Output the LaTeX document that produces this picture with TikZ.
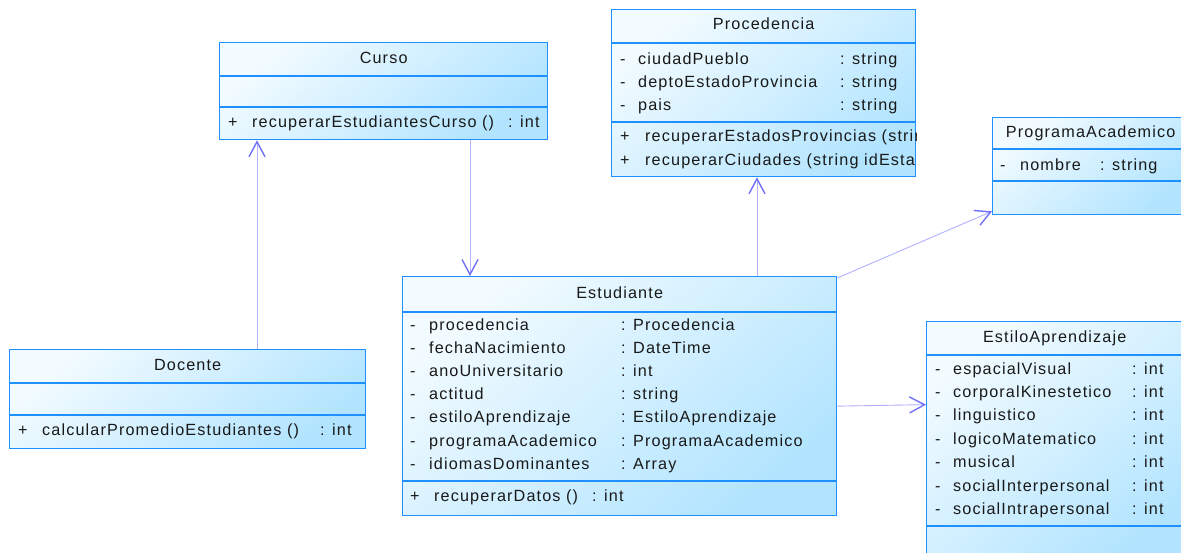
\documentclass[tikz,border=0pt]{standalone}
\usepackage{fontspec}
\setmainfont{Liberation Sans}[LetterSpace=7]
\usepackage{tikz}
\usetikzlibrary{arrows.meta}
\definecolor{UMLBorder}{RGB}{30,144,255}
\definecolor{UMLFillA}{RGB}{242,251,255}
\definecolor{UMLFillB}{RGB}{178,228,255}
\definecolor{UMLLine}{RGB}{178,178,255}
\definecolor{UMLHead}{RGB}{112,112,250}

\begin{document}
\begin{tikzpicture}[x=1pt, y=-1pt,
    cls/.style={rectangle, draw=UMLBorder, line width=1.3pt, anchor=north west,
                inner sep=0pt, top color=UMLFillA, bottom color=UMLFillB,
                shading angle=40},
    sep/.style={draw=UMLBorder, line width=1.2pt},
    txt/.style={anchor=west, inner sep=0pt, text=black!90,
                text height=11.5pt, text depth=3.5pt,
                font=\fontsize{16.2}{18}\selectfont},
    ttl/.style={inner sep=0pt, text=black!90,
                text height=11.5pt, text depth=3.5pt,
                font=\fontsize{16.2}{18}\selectfont},
    assoc/.style={draw=UMLLine, line width=0.9pt,
                  -{Straight Barb[length=15pt, width=16pt, line width=1.4pt,
                    color=UMLHead]}}
  ]
  \fill[white] (0,0) rectangle (1181,552);
  \useasboundingbox (0,0) rectangle (1181,552);

  % Curso
  \node[cls, minimum width=328pt, minimum height=97pt] (curso) at (219,42) {};
  \draw[sep] ([yshift=-34pt]curso.north west) -- ([yshift=-34pt]curso.north east);
  \draw[sep] ([yshift=-65pt]curso.north west) -- ([yshift=-65pt]curso.north east);
  \node[ttl] (cursoT) at ([yshift=-17pt]curso.north) {Curso};
  \node[txt] (cursoM1) at (228,123) {+};
  \node[txt] (cursoM2) at (252,123) {recuperarEstudiantesCurso ()};
  \node[txt] (cursoM3) at (508,123) {: int};

  % Procedencia
  \node[cls, minimum width=304pt, minimum height=167pt] (proc) at (611,9) {};
  \draw[sep] ([yshift=-34pt]proc.north west) -- ([yshift=-34pt]proc.north east);
  \draw[sep] ([yshift=-113pt]proc.north west) -- ([yshift=-113pt]proc.north east);
  \node[ttl] (procT) at ([yshift=-16pt]proc.north) {Procedencia};
  \foreach \i/\n in {0/ciudadPueblo, 1/deptoEstadoProvincia, 2/pais} {
    \node[txt] (proc-m\i) at (620,60+23*\i) {-};
    \node[txt] (proc-a\i) at (638,60+23*\i) {\n};
    \node[txt] (proc-t\i) at (840,60+23*\i) {: string};
  }
  \begin{scope}
    \clip (proc.north west) rectangle (proc.south east);
    \node[txt] (proc-p0) at (620,137) {+};
    \node[txt] (proc-o0) at (645,137) {recuperarEstadosProvincias (strin};
    \node[txt] (proc-p1) at (620,161) {+};
    \node[txt] (proc-o1) at (645,161) {recuperarCiudades (string idEsta};
  \end{scope}

  % ProgramaAcademico
  \node[cls, minimum width=196pt, minimum height=97pt] (prog) at (992,117) {};
  \draw[sep] ([yshift=-32pt]prog.north west) -- ([yshift=-32pt]prog.north east);
  \draw[sep] ([yshift=-64pt]prog.north west) -- ([yshift=-64pt]prog.north east);
  \node[ttl] (progT) at ([yshift=-16pt]prog.north) {ProgramaAcademico};
  \node[txt] (prog-m0) at (1000,166) {-};
  \node[txt] (prog-a0) at (1020,166) {nombre};
  \node[txt] (prog-t0) at (1100,166) {: string};

  % Estudiante
  \node[cls, minimum width=434pt, minimum height=239pt] (est) at (402,276) {};
  \draw[sep] ([yshift=-36pt]est.north west) -- ([yshift=-36pt]est.north east);
  \draw[sep] ([yshift=-205pt]est.north west) -- ([yshift=-205pt]est.north east);
  \node[ttl] (estT) at ([yshift=-18pt]est.north) {Estudiante};
  \foreach \i/\n/\t in {0/procedencia/Procedencia, 1/fechaNacimiento/DateTime,
      2/anoUniversitario/int, 3/actitud/string,
      4/estiloAprendizaje/EstiloAprendizaje,
      5/programaAcademico/ProgramaAcademico, 6/idiomasDominantes/Array} {
    \node[txt] (est-m\i) at (410,326+23.2*\i) {-};
    \node[txt] (est-a\i) at (429,326+23.2*\i) {\n};
    \node[txt] (est-t\i) at (621,326+23.2*\i) {: \t};
  }
  \node[txt] (est-p0) at (410,497) {+};
  \node[txt] (est-o0) at (434,497) {recuperarDatos ()};
  \node[txt] (est-r0) at (592,497) {: int};

  % Docente
  \node[cls, minimum width=356pt, minimum height=99pt] (doc) at (9,349) {};
  \draw[sep] ([yshift=-34pt]doc.north west) -- ([yshift=-34pt]doc.north east);
  \draw[sep] ([yshift=-66pt]doc.north west) -- ([yshift=-66pt]doc.north east);
  \node[ttl] (docT) at ([yshift=-17pt]doc.north) {Docente};
  \node[txt] (doc-p0) at (18,431) {+};
  \node[txt] (doc-o0) at (42,431) {calcularPromedioEstudiantes ()};
  \node[txt] (doc-r0) at (320,431) {: int};

  % EstiloAprendizaje
  \node[cls, minimum width=256pt, minimum height=250pt] (estilo) at (926,321) {};
  \draw[sep] ([yshift=-34pt]estilo.north west) -- ([yshift=-34pt]estilo.north east);
  \draw[sep] ([yshift=-205pt]estilo.north west) -- ([yshift=-205pt]estilo.north east);
  \node[ttl] (estiloT) at ([yshift=-17pt]estilo.north) {EstiloAprendizaje};
  \foreach \i/\n in {0/espacialVisual, 1/corporalKinestetico, 2/linguistico,
      3/logicoMatematico, 4/musical, 5/socialInterpersonal,
      6/socialIntrapersonal} {
    \node[txt] (estilo-m\i) at (935,370+23.4*\i) {-};
    \node[txt] (estilo-a\i) at (953,370+23.4*\i) {\n};
    \node[txt] (estilo-t\i) at (1132,370+23.4*\i) {: int};
  }

  % associations
  \draw[assoc] ([xshift=248pt]doc.north west) -- ([xshift=38pt]curso.south west);
  \draw[assoc] ([xshift=251pt]curso.south west) -- ([xshift=68pt]est.north west);
  \draw[assoc] ([xshift=355pt]est.north west) -- ([xshift=146pt]proc.south west);
  \draw[assoc] ([yshift=-2pt]est.north east) -- ([yshift=4pt]prog.south west);
  \draw[assoc] ([yshift=-10pt]est.east) -- ([yshift=42pt]estilo.west);
\end{tikzpicture}
\end{document}
